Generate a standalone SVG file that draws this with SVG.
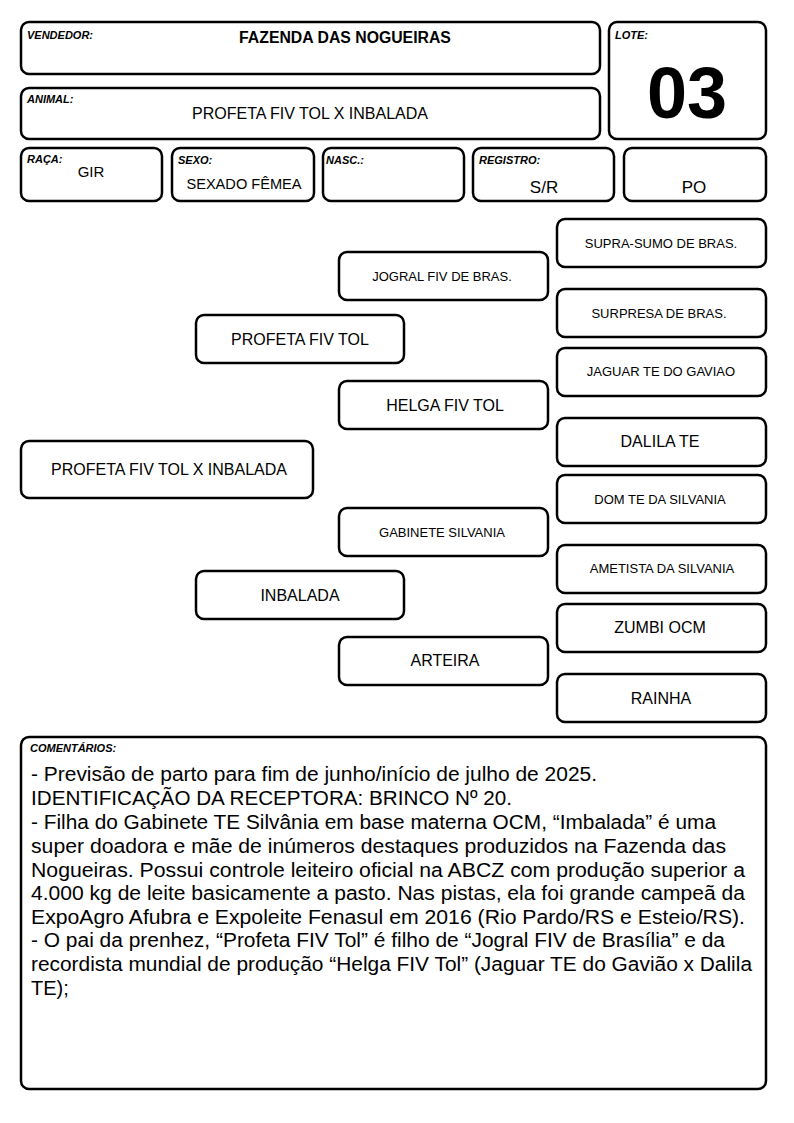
<svg xmlns="http://www.w3.org/2000/svg" width="794" height="1123" viewBox="0 0 794 1123">
<style>
.b{fill:#fff;stroke:#000;stroke-width:2.5}
text{font-family:"Liberation Sans",Arial,sans-serif;fill:#000}
.lbl{font-size:11px;font-weight:bold;font-style:italic}
.c{text-anchor:middle}
.big{font-size:16px}
.sm{font-size:13px}
.cm{font-size:20px}
</style>
<rect width="794" height="1123" fill="#fff"/>
<g id="vendedor"><rect class="b" x="21" y="22" width="579" height="52" rx="8"/><text class="lbl" x="27" y="39">VENDEDOR:</text><text class="c" x="345" y="43" font-size="15.8" font-weight="bold">FAZENDA DAS NOGUEIRAS</text></g>
<g id="lote"><rect class="b" x="609" y="22" width="157" height="117" rx="8"/><text class="lbl" x="615" y="39">LOTE:</text><text class="c" x="687" y="118" font-size="72" font-weight="bold">03</text></g>
<g id="animal"><rect class="b" x="21" y="88" width="579" height="51" rx="8"/><text class="lbl" x="27" y="103">ANIMAL:</text><text class="c big" x="310" y="119">PROFETA FIV TOL X INBALADA</text></g>
<g id="raca"><rect class="b" x="21" y="148" width="141" height="53" rx="8"/><text class="lbl" x="27" y="163">RAÇA:</text><text class="c" x="91" y="177" font-size="15">GIR</text></g>
<g id="sexo"><rect class="b" x="172" y="148" width="142" height="53" rx="8"/><text class="lbl" x="178" y="164">SEXO:</text><text class="c" x="244" y="189" font-size="14.6">SEXADO FÊMEA</text></g>
<g id="nasc"><rect class="b" x="323" y="148" width="141" height="53" rx="8"/><text class="lbl" x="326" y="164">NASC.:</text></g>
<g id="registro"><rect class="b" x="473" y="148" width="141" height="53" rx="8"/><text class="lbl" x="479" y="164">REGISTRO:</text><text class="c" x="544" y="193" font-size="17">S/R</text></g>
<g id="po"><rect class="b" x="624" y="148" width="142" height="53" rx="8"/><text class="c" x="694" y="193" font-size="17">PO</text></g>
<g id="connectors"></g>
<g id="n-animal"><rect class="b" x="21" y="441" width="292" height="57" rx="8"/><text class="c big" x="169" y="475">PROFETA FIV TOL X INBALADA</text></g>
<g id="n-pai"><rect class="b" x="196" y="315" width="208" height="48" rx="8"/><text class="c big" x="300" y="345">PROFETA FIV TOL</text></g>
<g id="n-mae"><rect class="b" x="196" y="571" width="208" height="48" rx="8"/><text class="c big" x="300" y="601">INBALADA</text></g>
<g id="n-jogral"><rect class="b" x="339" y="252" width="209" height="48" rx="8"/><text class="c sm" x="442" y="281">JOGRAL FIV DE BRAS.</text></g>
<g id="n-helga"><rect class="b" x="339" y="381" width="209" height="48" rx="8"/><text class="c big" x="445" y="411">HELGA FIV TOL</text></g>
<g id="n-gabinete"><rect class="b" x="339" y="508" width="209" height="48" rx="8"/><text class="c sm" x="442" y="537">GABINETE SILVANIA</text></g>
<g id="n-arteira"><rect class="b" x="339" y="637" width="209" height="48" rx="8"/><text class="c big" x="445" y="666">ARTEIRA</text></g>
<g id="n-suprasumo"><rect class="b" x="557" y="219" width="209" height="48" rx="8"/><text class="c sm" x="661" y="248">SUPRA-SUMO DE BRAS.</text></g>
<g id="n-surpresa"><rect class="b" x="557" y="289" width="209" height="48" rx="8"/><text class="c sm" x="659" y="318">SURPRESA DE BRAS.</text></g>
<g id="n-jaguar"><rect class="b" x="557" y="348" width="209" height="48" rx="8"/><text class="c sm" x="661" y="376">JAGUAR TE DO GAVIAO</text></g>
<g id="n-dalila"><rect class="b" x="557" y="418" width="209" height="48" rx="8"/><text class="c big" x="660" y="447">DALILA TE</text></g>
<g id="n-dom"><rect class="b" x="557" y="475" width="209" height="48" rx="8"/><text class="c sm" x="660" y="504">DOM TE DA SILVANIA</text></g>
<g id="n-ametista"><rect class="b" x="557" y="545" width="209" height="48" rx="8"/><text class="c sm" x="662" y="573">AMETISTA DA SILVANIA</text></g>
<g id="n-zumbi"><rect class="b" x="557" y="604" width="209" height="48" rx="8"/><text class="c big" x="660" y="633">ZUMBI OCM</text></g>
<g id="n-rainha"><rect class="b" x="557" y="674" width="209" height="48" rx="8"/><text class="c big" x="661" y="704">RAINHA</text></g>
<g id="comentarios"><rect class="b" x="21" y="737" width="745" height="352" rx="8"/><text class="lbl" x="30" y="752" font-size="10.5">COMENTÁRIOS:</text>
<text class="cm" x="31" y="781" textLength="566" lengthAdjust="spacingAndGlyphs">- Previsão de parto para fim de junho/início de julho de 2025.</text>
<text class="cm" x="31" y="805" textLength="481" lengthAdjust="spacingAndGlyphs">IDENTIFICAÇÃO DA RECEPTORA: BRINCO Nº 20.</text>
<text class="cm" x="31" y="829" textLength="685" lengthAdjust="spacingAndGlyphs">- Filha do Gabinete TE Silvânia em base materna OCM, “Imbalada” é uma</text>
<text class="cm" x="31" y="853" textLength="695" lengthAdjust="spacingAndGlyphs">super doadora e mãe de inúmeros destaques produzidos na Fazenda das</text>
<text class="cm" x="31" y="877" textLength="714" lengthAdjust="spacingAndGlyphs">Nogueiras. Possui controle leiteiro oficial na ABCZ com produção superior a</text>
<text class="cm" x="31" y="900" textLength="714" lengthAdjust="spacingAndGlyphs">4.000 kg de leite basicamente a pasto. Nas pistas, ela foi grande campeã da</text>
<text class="cm" x="31" y="924" textLength="714" lengthAdjust="spacingAndGlyphs">ExpoAgro Afubra e Expoleite Fenasul em 2016 (Rio Pardo/RS e Esteio/RS).</text>
<text class="cm" x="31" y="947" textLength="694" lengthAdjust="spacingAndGlyphs">- O pai da prenhez, “Profeta FIV Tol” é filho de “Jogral FIV de Brasília” e da</text>
<text class="cm" x="31" y="971" textLength="721" lengthAdjust="spacingAndGlyphs">recordista mundial de produção “Helga FIV Tol” (Jaguar TE do Gavião x Dalila</text>
<text class="cm" x="31" y="995">TE);</text>
</g>
</svg>
